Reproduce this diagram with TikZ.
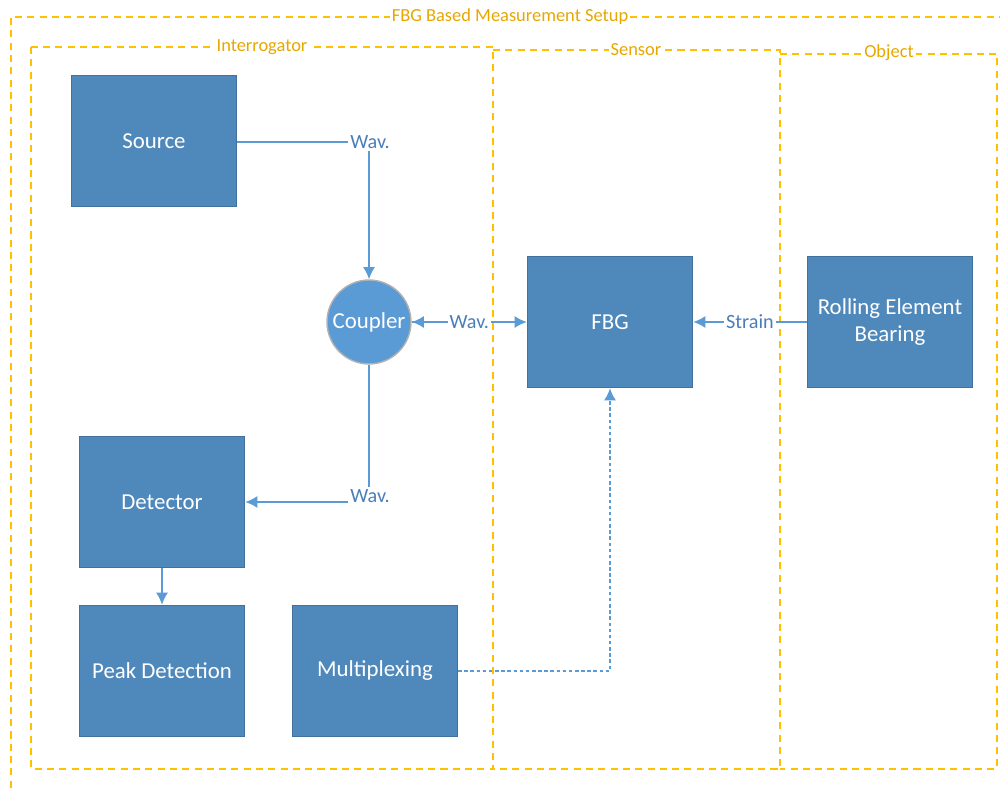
\documentclass[tikz,border=0pt]{standalone}
\usepackage{fontspec}
\setmainfont{Carlito}
\usetikzlibrary{arrows.meta}
\definecolor{boxblue}{RGB}{79,136,187}
\definecolor{boxedge}{RGB}{65,113,156}
\definecolor{lineblue}{RGB}{91,155,213}
\definecolor{textblue}{RGB}{74,126,187}
\definecolor{framegold}{RGB}{255,192,0}
\definecolor{labelgold}{RGB}{230,168,0}
\tikzset{
  block/.style={draw=boxedge, line width=0.8pt, fill=boxblue, text=white,
    minimum width=3.3cm, minimum height=2.62cm, font=\fontsize{13}{15.5}\selectfont, align=center},
  link/.style={draw=lineblue, line width=1.1pt},
  tip/.style={-{Latex[length=7pt,width=7pt]}},
  wlabel/.style={text=textblue, fill=white, inner sep=1pt, font=\fontsize{11.5}{13}\selectfont},
  frame/.style={draw=framegold, line width=1.4pt, dash pattern=on 4pt off 3pt},
  flabel/.style={text=labelgold, fill=white, inner sep=1pt, font=\fontsize{10.5}{12}\selectfont}
}
\begin{document}
\begin{tikzpicture}[x=0.02cm, y=-0.02cm]
  \useasboundingbox (0,0) rectangle (1000,790);
  % frames
  \draw[frame] (11,800) -- (11,17) -- (1010,17);
  \node[flabel] at (510,17) (setup) {FBG Based Measurement Setup};
  \draw[frame] (31,47) rectangle (493,769);
  \node[flabel] at (262,47) (interrog) {Interrogator};
  \draw[frame] (493,50) -- (780,50) -- (780,769) -- (493,769);
  \node[flabel] at (636,50) (sensor) {Sensor};
  \draw[frame] (780,54) -- (997,54) -- (997,769) -- (780,769);
  \node[flabel] at (889,53) (object) {Object};
  % blocks
  \node[block] at (154,141) (source) {Source};
  \node[circle, draw=gray!60, line width=0.8pt, fill=lineblue, text=white, minimum size=1.68cm,
    inner sep=0pt, font=\fontsize{13}{15.5}\selectfont] at (369,322) (coupler) {Coupler};
  \node[block] at (610,322) (fbg) {FBG};
  \node[block] at (890,322) (bearing) {Rolling Element\\Bearing};
  \node[block] at (162,502) (detector) {Detector};
  \node[block] at (162,671) (peak) {Peak Detection};
  \node[block] at (375,671) (multiplex) {Multiplexing};
  % connectors
  \node[wlabel] at (370,142) (wav1) {Wav.};
  \draw[link] (source.east |- wav1) -- (wav1.west);
  \draw[link, tip] (wav1.south -| coupler) -- (coupler.north);
  \draw[link, tip] (coupler.east) -- (fbg.west) node[midway, wlabel] (wav2) {Wav.};
  \draw[link, tip] (wav2.west) -- (coupler.east);
  \draw[link, tip] (bearing.west) -- (fbg.east) node[midway, wlabel] (strain) {Strain};
  \node[wlabel] at (370,496) (wav3) {Wav.};
  \draw[link] (coupler.south) -- (wav3.north -| coupler);
  \draw[link, tip] (wav3.west |- detector) -- (detector.east);
  \draw[link, tip] (detector.south) -- (peak.north);
  \coordinate (bend) at (fbg |- multiplex);
  \draw[link, tip, dash pattern=on 2pt off 1.5pt] (multiplex.east) -- (bend) -- (fbg.south);
\end{tikzpicture}
\end{document}
